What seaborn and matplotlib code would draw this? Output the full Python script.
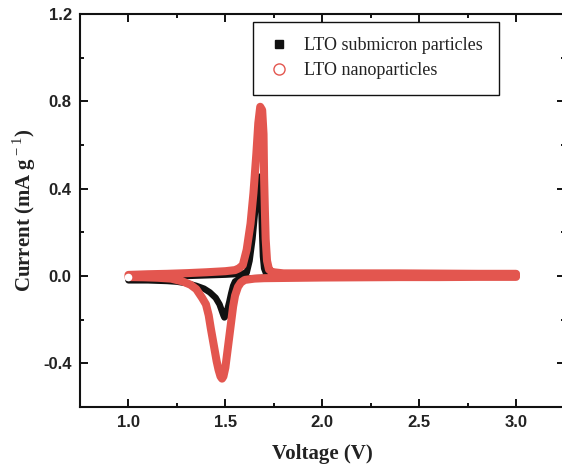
import numpy as np
import pandas as pd
import matplotlib
matplotlib.use("Agg")
import matplotlib.pyplot as plt
from matplotlib.lines import Line2D
from matplotlib.ticker import MultipleLocator
import seaborn as sns

# ---- data (CV loops: 3.0 V -> 1.0 V -> 3.0 V) ----
# LTO nanoparticles: cathodic sweep (3.0 -> 1.0)
nano_cath_v = [3.00, 2.80, 2.60, 2.40, 2.20, 2.00, 1.90, 1.80, 1.70, 1.65, 1.60, 1.58,
               1.565, 1.55, 1.54, 1.53, 1.52, 1.51, 1.50, 1.49, 1.483, 1.475, 1.465,
               1.455, 1.445, 1.435, 1.425, 1.414, 1.40, 1.38, 1.35, 1.32, 1.28, 1.22,
               1.15, 1.08, 1.00]
nano_cath_i = [-0.004, -0.004, -0.005, -0.005, -0.006, -0.007, -0.008, -0.009, -0.010,
               -0.012, -0.018, -0.030, -0.050, -0.090, -0.140, -0.210, -0.280, -0.350,
               -0.420, -0.460, -0.470, -0.460, -0.430, -0.390, -0.340, -0.290, -0.240,
               -0.180, -0.130, -0.100, -0.060, -0.040, -0.025, -0.012, -0.008, -0.006,
               -0.005]
# LTO nanoparticles: anodic sweep (1.0 -> 3.0)
nano_anod_v = [1.00, 1.10, 1.20, 1.30, 1.40, 1.50, 1.55, 1.57, 1.59, 1.61, 1.63, 1.645,
               1.66, 1.67, 1.68, 1.69, 1.697, 1.70, 1.704, 1.708, 1.715, 1.725, 1.74,
               1.80, 1.90, 2.00, 2.20, 2.40, 2.60, 2.80, 3.00]
nano_anod_i = [0.005, 0.008, 0.010, 0.013, 0.017, 0.022, 0.027, 0.035, 0.050, 0.120,
               0.240, 0.380, 0.560, 0.700, 0.775, 0.760, 0.650, 0.450, 0.300, 0.170,
               0.070, 0.030, 0.018, 0.012, 0.012, 0.012, 0.012, 0.012, 0.011, 0.010,
               0.010]

# LTO submicron particles: cathodic sweep (3.0 -> 1.0)
sub_cath_v = [3.00, 2.50, 2.00, 1.70, 1.60, 1.57, 1.55, 1.54, 1.53, 1.52, 1.51, 1.50,
              1.495, 1.49, 1.48, 1.47, 1.45, 1.42, 1.39, 1.35, 1.30, 1.25, 1.20, 1.10,
              1.00]
sub_cath_i = [-0.002, -0.004, -0.006, -0.008, -0.012, -0.015, -0.025, -0.045, -0.080,
              -0.120, -0.155, -0.185, -0.190, -0.180, -0.155, -0.130, -0.100, -0.075,
              -0.058, -0.045, -0.033, -0.026, -0.023, -0.020, -0.020]
# LTO submicron particles: anodic sweep (1.0 -> 3.0)
sub_anod_v = [1.00, 1.10, 1.20, 1.30, 1.40, 1.50, 1.58, 1.61, 1.625, 1.64, 1.655, 1.667,
              1.677, 1.684, 1.689, 1.694, 1.70, 1.71, 1.75, 1.80, 2.00, 2.50, 3.00]
sub_anod_i = [-0.015, -0.008, -0.003, 0.000, 0.003, 0.006, 0.010, 0.015, 0.070, 0.170,
              0.310, 0.400, 0.455, 0.365, 0.210, 0.090, 0.035, 0.012, 0.008, 0.007,
              0.006, 0.005, 0.004]

labels = ["LTO submicron particles", "LTO nanoparticles"]
x_ticks = [1.0, 1.5, 2.0, 2.5, 3.0]
y_ticks = [-0.4, 0.0, 0.4, 0.8, 1.2]

sub_df = pd.DataFrame({"V": sub_cath_v + sub_anod_v, "I": sub_cath_i + sub_anod_i})
nano_df = pd.DataFrame({"V": nano_cath_v + nano_anod_v, "I": nano_cath_i + nano_anod_i})

# ---- style ----
sns.set_style("ticks")
plt.rcParams["font.family"] = ["Liberation Sans", "DejaVu Sans"]
plt.rcParams["mathtext.fontset"] = "custom"
plt.rcParams["mathtext.rm"] = "Liberation Serif"
plt.rcParams["mathtext.bf"] = "Liberation Serif:bold"

RED = "#e3564f"
BLACK = "#111111"
TXT = "#222222"

fig = plt.figure(figsize=(5.62, 4.66), dpi=100)
ax = fig.add_axes([80 / 562, 59 / 466, 484.5 / 562, 393 / 466])

sns.lineplot(data=sub_df, x="V", y="I", sort=False, estimator=None, ax=ax,
             color=BLACK, lw=4.6, solid_capstyle="round", solid_joinstyle="round")
sns.lineplot(data=nano_df, x="V", y="I", sort=False, estimator=None, ax=ax,
             color=RED, lw=5.8, solid_capstyle="round", solid_joinstyle="round")
# start point marker (white dot) as in reference
ax.plot([nano_cath_v[-1]], [nano_cath_i[-1]], marker="o", ms=4.5, mfc="white",
        mec="white", ls="none", zorder=5)

ax.set_xlim(0.75, 3.25)
ax.set_ylim(-0.6, 1.2)
ax.set_xticks(x_ticks)
ax.set_yticks(y_ticks)
ax.xaxis.set_minor_locator(MultipleLocator(0.25))
ax.yaxis.set_minor_locator(MultipleLocator(0.2))
ax.set_xticklabels([f"{v:.1f}" for v in x_ticks], fontsize=12, fontweight="bold", color=TXT)
ax.set_yticklabels([f"{v:.1f}" for v in y_ticks], fontsize=12, fontweight="bold", color=TXT)

ax.tick_params(which="both", direction="in", top=True, right=True, width=1.4, color=BLACK)
ax.tick_params(which="major", length=5.5, pad=6)
ax.tick_params(which="minor", length=3)
for sp in ax.spines.values():
    sp.set_linewidth(1.5)
    sp.set_color(BLACK)

ax.set_xlabel("Voltage (V)", family="Liberation Serif", fontweight="bold",
              fontsize=15, color=TXT, labelpad=10)
ax.set_ylabel("Current (mA g$^{\\rm -1}$)", family="Liberation Serif",
              fontweight="bold", fontsize=15, color=TXT, labelpad=4)

handles = [
    Line2D([], [], ls="none", marker="s", ms=6, mfc=BLACK, mec=BLACK),
    Line2D([], [], ls="none", marker="o", ms=8, mfc="white", mec=RED, mew=1.0),
]
leg = ax.legend(handles, labels, loc="upper left", bbox_to_anchor=(0.357, 0.98),
                frameon=True, fancybox=False, edgecolor=BLACK, framealpha=1,
                prop={"family": "Liberation Serif", "size": 13}, handlelength=1.2,
                handletextpad=0.8, labelspacing=0.45, borderpad=0.85, borderaxespad=0)
leg.get_frame().set_linewidth(1.0)
for t in leg.get_texts():
    t.set_color(TXT)

fig.savefig("out.png", dpi=100)
